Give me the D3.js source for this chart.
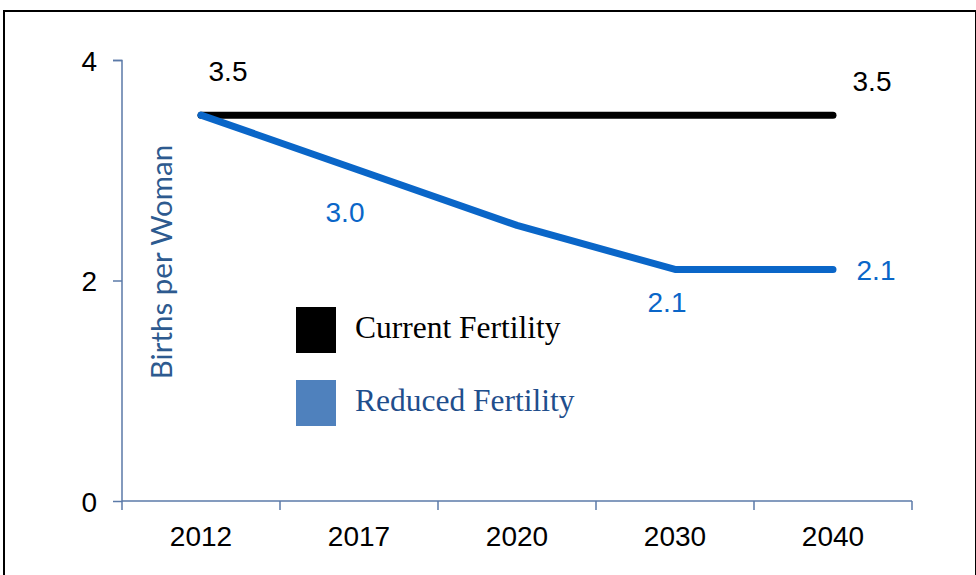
<!DOCTYPE html>
<html><head><meta charset="utf-8">
<script src="https://cdn.jsdelivr.net/npm/d3@7/dist/d3.min.js"></script>
<style>body{margin:0;background:#fff}svg{display:block}</style>
</head><body>
<svg id="c" width="976" height="575"></svg>
<script>
const categories = ["2012","2017","2020","2030","2040"];
const currentFertility = [3.5,3.5,3.5,3.5,3.5];
const reducedFertility = [3.5,3.0,2.5,2.1,2.1];
const yTicks = [0,2,4];
const seriesNames = ["Current Fertility","Reduced Fertility"];
const currentLabels = [{i:0,text:"3.5"},{i:4,text:"3.5"}];
const reducedLabels = [{i:1,text:"3.0"},{i:3,text:"2.1"},{i:4,text:"2.1"}];

const svg = d3.select("#c");
svg.append("rect").attr("x",4).attr("y",11).attr("width",972).attr("height",580)
  .attr("fill","none").attr("stroke","#000").attr("stroke-width",2);

const x = d3.scaleBand().domain(categories).range([122,912]);
const y = d3.scaleLinear().domain([0,4]).range([501,60]);
const axisColor = "#5b7aa8";
const font = "'Liberation Sans', Arial, sans-serif";
const fs = 28;

const yAxis = svg.append("g").attr("transform","translate(122,0)")
  .call(d3.axisLeft(y).tickValues(yTicks).tickSize(9).tickPadding(16).tickFormat(d3.format("d")));
const xAxis = svg.append("g").attr("transform","translate(0,501)")
  .call(d3.axisBottom(x).tickSize(0).tickPadding(25));
xAxis.selectAll(".bt").data(d3.range(categories.length+1)).enter().append("line")
  .attr("x1",i=>122+i*x.step()).attr("x2",i=>122+i*x.step()).attr("y1",0).attr("y2",9);
[yAxis,xAxis].forEach(a=>{
  a.selectAll("path.domain").attr("stroke",axisColor).attr("stroke-width",1.5);
  a.selectAll("line").attr("stroke",axisColor).attr("stroke-width",1.5);
  a.selectAll("text").attr("font-family",font).attr("font-size",fs).attr("fill","#000");
});
yAxis.select("path.domain").attr("d","M-9,60.5H0V501.5");
xAxis.select("path.domain").attr("d","M122,0H912");
yAxis.selectAll(".tick text").attr("dy","0.36em");

const cx = (d,i)=>x(categories[i])+x.bandwidth()/2;
const line = d3.line().x((d,i)=>cx(d,i)).y(d=>y(d));
svg.append("path").datum(currentFertility).attr("d",line).attr("fill","none")
  .attr("stroke","#000").attr("stroke-width",7).attr("stroke-linecap","round").attr("stroke-linejoin","round");
svg.append("path").datum(reducedFertility).attr("d",line).attr("fill","none")
  .attr("stroke","#0a66c8").attr("stroke-width",7).attr("stroke-linecap","round").attr("stroke-linejoin","round");

const lblCur = [[27,-34],[39,-24]];
svg.selectAll(".lc").data(currentLabels).enter().append("text")
  .attr("x",(d,k)=>cx(null,d.i)+lblCur[k][0]).attr("y",(d,k)=>y(currentFertility[d.i])+lblCur[k][1])
  .attr("text-anchor","middle").attr("font-family",font).attr("font-size",fs).attr("fill","#000").text(d=>d.text);
const lblRed = [[-14,52],[-8,43],[43,11]];
svg.selectAll(".lr").data(reducedLabels).enter().append("text")
  .attr("x",(d,k)=>cx(null,d.i)+lblRed[k][0]).attr("y",(d,k)=>y(reducedFertility[d.i])+lblRed[k][1])
  .attr("text-anchor","middle").attr("font-family",font).attr("font-size",fs).attr("fill","#0a66c8").text(d=>d.text);

svg.append("text").attr("transform","translate(172,262) rotate(-90)")
  .attr("text-anchor","middle").attr("font-family","Lato, 'Open Sans', sans-serif")
  .attr("font-size",29.5).attr("fill","#2d5a8f").text("Births per Woman");

const legColors = ["#000","#4f81bd"], legText = ["#000","#1f4e8c"];
const lg = svg.append("g");
seriesNames.forEach((n,i)=>{
  lg.append("rect").attr("x",296).attr("y",307+i*73).attr("width",40).attr("height",46).attr("fill",legColors[i]);
  lg.append("text").attr("x",355).attr("y",338+i*73).attr("font-family","'Liberation Serif','Times New Roman',serif")
    .attr("font-size",31.5).attr("fill",legText[i]).text(n);
});
</script>
</body></html>
